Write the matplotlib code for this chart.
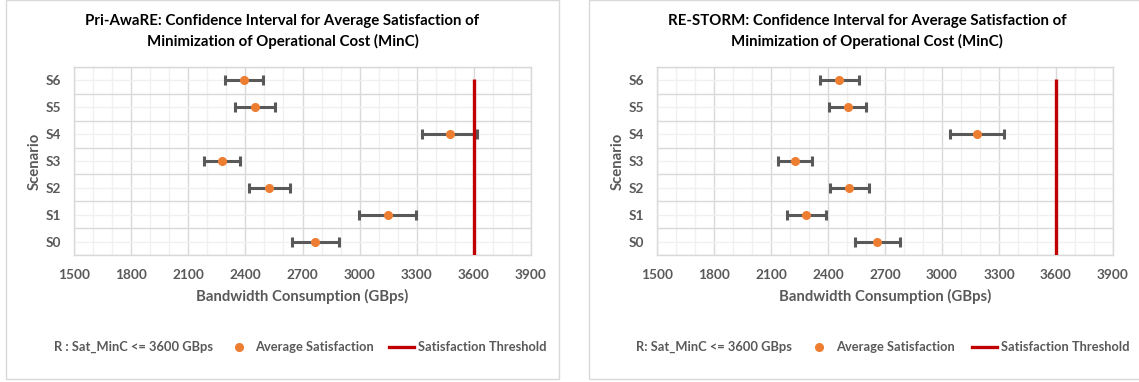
import matplotlib
matplotlib.use("Agg")
import matplotlib.pyplot as plt
from matplotlib.lines import Line2D
from matplotlib.patches import Rectangle
from matplotlib.ticker import MultipleLocator

plt.rcParams['font.family'] = ['Lato', 'DejaVu Sans']

scenarios = ['S0', 'S1', 'S2', 'S3', 'S4', 'S5', 'S6']
pri_mean = [2768, 3148, 2525, 2278, 3474, 2450, 2393]
pri_ci = [122, 150, 107, 95, 145, 103, 100]
re_mean = [2660, 2285, 2513, 2225, 3186, 2503, 2460]
re_ci = [119, 102, 105, 90, 142, 99, 103]
threshold = 3600
x_ticks = [1500, 1800, 2100, 2400, 2700, 3000, 3300, 3600, 3900]

titles = ["Pri-AwaRE: Confidence Interval for Average Satisfaction of",
          "RE-STORM: Confidence Interval for Average Satisfaction of"]
title_line2 = "Minimization of Operational Cost (MinC)"
rule_labels = ["R : Sat_MinC <= 3600 GBps", "R: Sat_MinC <= 3600 GBps"]

W, H = 1139, 382
fig = plt.figure(figsize=(W / 100, H / 100), dpi=100)

GRAY_TXT = '#595959'
ORANGE = '#ED7D31'
RED = '#C00000'
BAR = '#595959'

TICK_FS = 9.8
LABEL_FS = 10.7
TITLE_FS = 10.8
LEG_FS = 9.3


def fx(px):
    return px / W


def fy(py):
    return 1 - py / H


def draw_panel(x0, x1, plot_x0, plot_x1, means, cis, title, rule,
               leg):
    # chart frame
    fig.patches.append(Rectangle((fx(x0), fy(379)), fx(x1 - x0), 379 / H,
                                 transform=fig.transFigure, fill=False,
                                 edgecolor='#d9d9d9', lw=1.0))
    ax = fig.add_axes([fx(plot_x0), fy(255), fx(plot_x1 - plot_x0), (255 - 67) / H])
    ypos = [i + 0.5 for i in range(len(scenarios))]
    ax.set_xlim(x_ticks[0], x_ticks[-1])
    ax.set_ylim(0, len(scenarios))
    ax.xaxis.set_major_locator(MultipleLocator(300))
    ax.xaxis.set_minor_locator(MultipleLocator(100))
    ax.yaxis.set_major_locator(MultipleLocator(1))
    ax.set_yticks(ypos, minor=True)
    ax.grid(which='major', color='#d9d9d9', lw=1.0)
    ax.grid(which='minor', color='#f0f0f0', lw=1.0)
    ax.set_axisbelow(True)
    ax.set_xticks(x_ticks)
    ax.set_xticklabels([str(t) for t in x_ticks], fontsize=TICK_FS,
                       fontweight='bold', color=GRAY_TXT)
    ax.set_yticklabels([])
    ax.set_yticks(ypos, minor=True)
    ax.set_yticklabels(scenarios, minor=True, fontsize=TICK_FS, fontweight='bold',
                       color=GRAY_TXT)
    ax.tick_params(which='both', length=0)
    ax.tick_params(axis='x', pad=10)
    ax.tick_params(axis='y', which='minor', pad=9)
    for s in ax.spines.values():
        s.set_color('#d9d9d9')
        s.set_linewidth(1.0)

    ax.errorbar(means, ypos, xerr=cis, fmt='none', ecolor=BAR, elinewidth=2.2,
                capsize=3.5, capthick=2.2, zorder=3)
    ax.plot(means, ypos, 'o', color=ORANGE, ms=5.5, mec=ORANGE, zorder=4)
    ax.plot([threshold, threshold], [0, len(scenarios) - 0.45], color=RED,
            lw=2.4, solid_capstyle='butt', zorder=5)

    ax.set_xlabel("Bandwidth Consumption (GBps)", fontsize=LABEL_FS,
                  fontweight='bold', color=GRAY_TXT, labelpad=6)
    ax.set_ylabel("Scenario", fontsize=LABEL_FS, fontweight='bold',
                  color=GRAY_TXT, labelpad=3)

    cx = (x0 + x1) / 2
    fig.text(fx(cx), fy(21), title, ha='center', va='center', fontsize=TITLE_FS,
             fontweight='bold', color='black')
    fig.text(fx(cx), fy(41.5), title_line2, ha='center', va='center',
             fontsize=TITLE_FS, fontweight='bold', color='black')

    # legend row
    ly = fy(347)
    rx, mx, atx, l0, l1, ttx = leg
    fig.text(fx(rx), ly, rule, ha='left', va='center', fontsize=LEG_FS,
             fontweight='bold', color=GRAY_TXT)
    fig.lines.append(Line2D([fx(mx)], [ly], marker='o', color=ORANGE, ms=5.5,
                            transform=fig.transFigure))
    fig.text(fx(atx), ly, "Average Satisfaction", ha='left', va='center',
             fontsize=LEG_FS, fontweight='bold', color=GRAY_TXT)
    fig.lines.append(Line2D([fx(l0), fx(l1)], [ly, ly], color=RED, lw=2.4,
                            transform=fig.transFigure))
    fig.text(fx(ttx), ly, "Satisfaction Threshold", ha='left', va='center',
             fontsize=LEG_FS, fontweight='bold', color=GRAY_TXT)
    return ax


draw_panel(6, 559, 74, 531, pri_mean, pri_ci, titles[0], rule_labels[0],
           (54.5, 239, 255, 389, 414, 418))
draw_panel(589, 1145, 657, 1113, re_mean, re_ci, titles[1], rule_labels[1],
           (635.5, 819, 836, 972, 997, 1001))

fig.savefig("out.png", dpi=100)
